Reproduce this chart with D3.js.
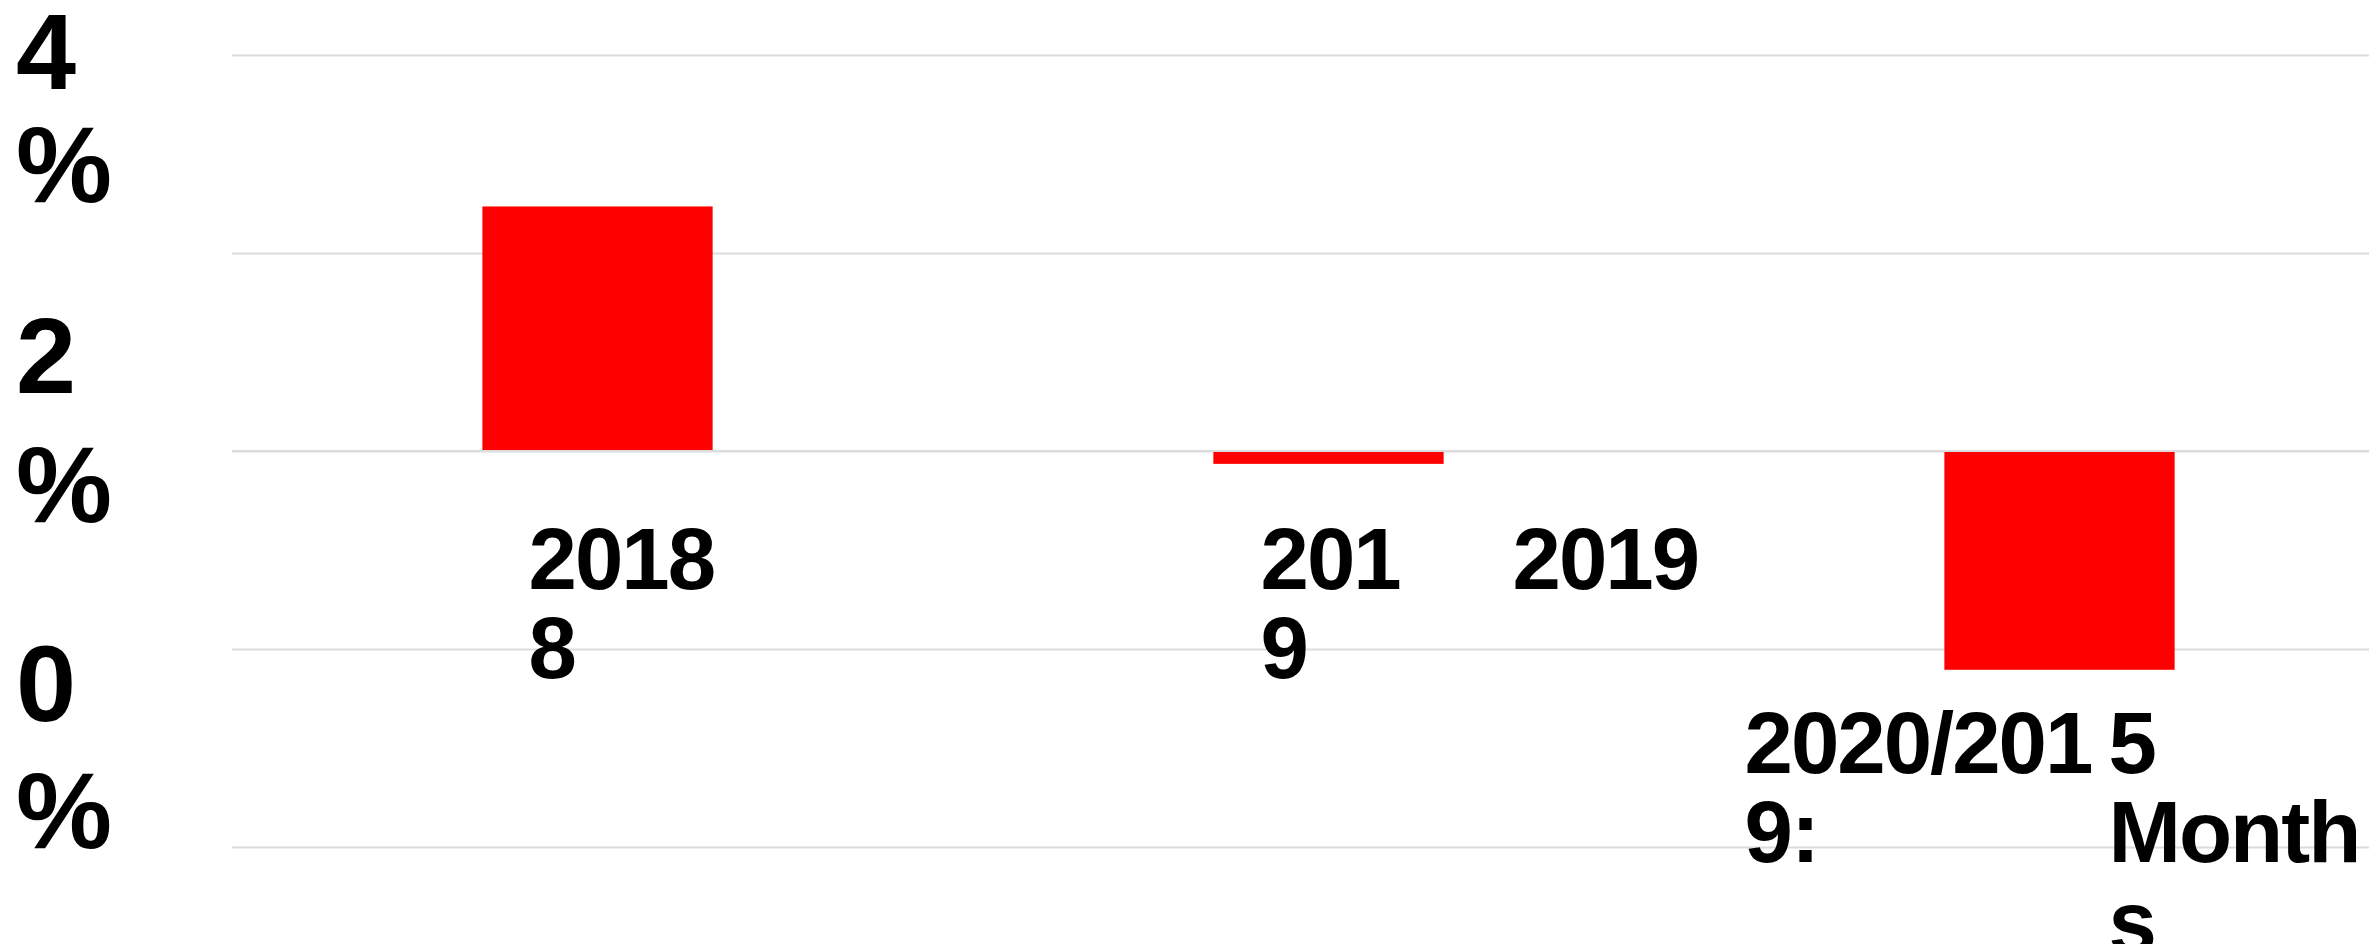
<!DOCTYPE html>
<html>
<head>
<meta charset="utf-8">
<script src="https://cdn.jsdelivr.net/npm/d3@7"></script>
<style>
  html, body { margin: 0; padding: 0; background: #fff; }
  svg { display: block; }
  text { font-family: "Liberation Sans", Arial, sans-serif; font-weight: bold; fill: #000; }
</style>
</head>
<body>
<div class="content"></div>
<script>
// data
var categories = ["2018", "2019", "2020/2019: 5 Months"];
var values = [2.47, -0.13, -2.21];           // percent change
var tickValues = [4, 2, 0, -2, -4];         // gridlines
var tickLabels = ["4%", "2%", "0%"];        // only these labels are visible
// the category labels as they wrap in the picture (columns of lines)
var labelColumns = [
  [["2018", "8"]],
  [["201", "9"], ["2019"]],
  [["2020/201", "9:"], ["5", "Month", "s"]]
];

var W = 2369, H = 944;
var margin = {top: 55, left: 232};

var svg = d3.select('.content').append('svg').attr('width', W).attr('height', H);

var x = d3.scaleBand().domain(categories).range([margin.left, 2425])
  .paddingInner(0.685).paddingOuter(0.3425);
var y = d3.scaleLinear().domain([-4, 4]).range([847, 55]);

// gridlines
var grid = svg.append('g').attr('transform', 'translate(' + margin.left + ',0)')
  .call(d3.axisRight(y).tickValues(tickValues).tickSize(W).tickFormat(''));
grid.select('.domain').remove();
grid.selectAll('.tick line').attr('stroke', '#dcdcdc').attr('stroke-width', 2);

// bars
var data = categories.map(function(c, i) { return {cat: c, value: values[i], cols: labelColumns[i]}; });
svg.selectAll('rect.bar').data(data).enter().append('rect')
  .attr('class', 'bar')
  .attr('x', function(d) { return x(d.cat); })
  .attr('width', x.bandwidth())
  .attr('y', function(d) { return y(Math.max(0, d.value)); })
  .attr('height', function(d) { return Math.abs(y(d.value) - y(0)); })
  .attr('fill', '#ff0000');

// zero baseline over the bars
svg.append('line')
  .attr('x1', margin.left).attr('x2', W)
  .attr('y1', y(0)).attr('y2', y(0))
  .attr('stroke', '#dcdcdc').attr('stroke-width', 2);

// y tick labels, broken onto two lines like the picture
var digitY = d3.scaleLinear().domain([4, 2, 0]).range([89, 392.5, 720.5]);
var pctY = d3.scaleLinear().domain([4, 2, 0]).range([201.5, 521.5, 848]);
tickLabels.forEach(function(t) {
  var v = parseFloat(t);
  var txt = svg.append('text').attr('x', 16).style('font-size', '108px');
  txt.append('tspan').attr('x', 16).attr('y', digitY(v)).text(t.replace('%', ''));
  txt.append('tspan').attr('x', 16).attr('y', pctY(v)).text('%');
});

// category labels
var colOffsets = [[-69], [-68, 184], [-315, 49]];
var lineH = 89.5;
data.forEach(function(d, i) {
  var cx = x(d.cat) + x.bandwidth() / 2;
  var base = d.value < -1 ? y(d.value) + 103 : y(0) + 137.5;
  d.cols.forEach(function(lines, j) {
    var t = svg.append('text').style('font-size', '87px').style('letter-spacing', '-2px');
    lines.forEach(function(s, k) {
      t.append('tspan').attr('x', cx + colOffsets[i][j]).attr('y', base + k * lineH).text(s);
    });
  });
});
</script>
</body>
</html>
